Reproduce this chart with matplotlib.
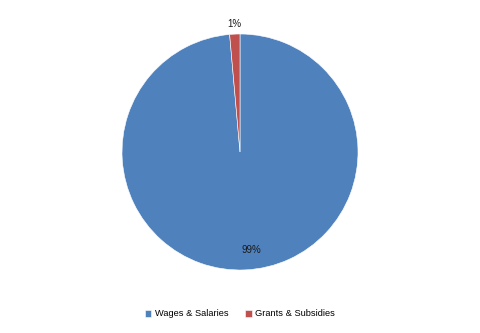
import numpy as np
import matplotlib
matplotlib.use('Agg')
from matplotlib import pyplot as plt

plt.rcParams['font.family'] = ['Liberation Sans', 'DejaVu Sans']

categories = ['Wages & Salaries', 'Grants & Subsidies']
values = [98.6, 1.4]
colors = ['#4F81BD', '#C0504D']

fig = plt.figure(figsize=(4.8, 3.33), dpi=100)
ax = fig.add_axes([122 / 480, (333 - 270) / 333, 236 / 480, 236 / 333])

wedges, texts, autotexts = ax.pie(values, colors=colors, startangle=90, counterclock=False,
                                  autopct='%.0f%%', pctdistance=0.83,
                                  wedgeprops=dict(edgecolor='white', linewidth=0.4),
                                  textprops=dict(fontsize=7, color='#1a1a1a'))
ax.set_xlim(-1, 1)
ax.set_ylim(-1, 1)
ax.set_aspect('equal')

# push the small slice's label outside
x, y = autotexts[1].get_position()
r = np.hypot(x, y)
autotexts[1].set_position((x / r * 1.09, y / r * 1.09))
autotexts[0].set_position((0.1, -0.83))

fig.legend(wedges, categories, loc='center', bbox_to_anchor=(0.5, 1 - 314 / 333), ncol=2,
           frameon=False, fontsize=6.7, handlelength=0.7, handleheight=0.7,
           handletextpad=0.4, columnspacing=1.8)

fig.savefig('out.png', dpi=100)
